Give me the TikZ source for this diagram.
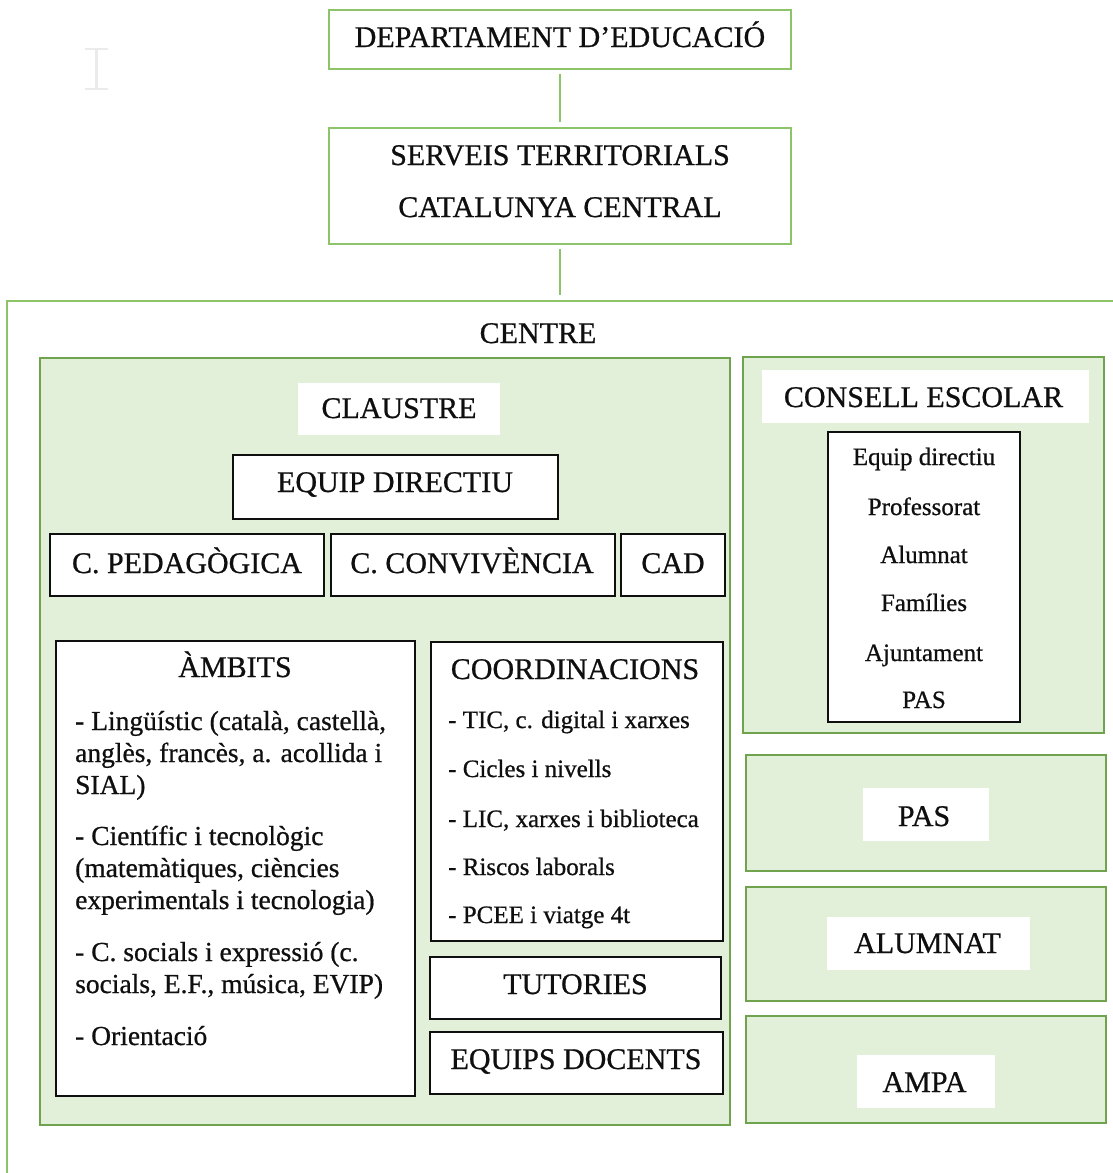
\documentclass[tikz,border=0pt]{standalone}
\usepackage{fontspec}
\setmainfont{Liberation Serif}[FakeBold=0.7]
\usetikzlibrary{fit}
\definecolor{lgreen}{RGB}{141,196,106}
\definecolor{dgreen}{RGB}{112,163,78}
\definecolor{pfill}{RGB}{226,239,217}
\definecolor{ink}{RGB}{15,15,15}
\definecolor{cursorgray}{RGB}{234,236,236}
\begin{document}
\begin{tikzpicture}[x=1pt,y=-1pt,
  topbox/.style={draw=lgreen, line width=1.8pt, inner sep=0pt, fill=white},
  outerbox/.style={draw=lgreen, line width=1.8pt, inner sep=0pt},
  panel/.style={draw=dgreen, line width=1.8pt, fill=pfill, inner sep=0pt},
  wbox/.style={fill=white, inner sep=0pt},
  blackbox/.style={draw=ink, line width=1.6pt, fill=white, inner sep=0pt},
  conn/.style={draw=lgreen, line width=1.8pt, shorten <=4pt, shorten >=5pt},
  lab/.style={anchor=base, inner sep=0pt, text=ink, font=\fontsize{30}{36}\selectfont},
  body/.style={anchor=base west, inner sep=0pt, text=ink, font=\fontsize{27.5}{32}\selectfont},
  item/.style={anchor=base west, inner sep=0pt, text=ink, font=\fontsize{25}{30}\selectfont},
  member/.style={anchor=base, inner sep=0pt, text=ink, font=\fontsize{25}{30}\selectfont},
  cursor/.style={draw=cursorgray, line width=2.5pt}
]
\useasboundingbox[fill=white] (0,0) rectangle (1113,1173);

% faint text cursor
\draw[cursor] (85,49) -- (108,49) (96.5,49) -- (96.5,89) (85,89) -- (108,89);

% top hierarchy
\node[topbox, fit={(329,10) (791,69)}] (dept) {};
\node[topbox, fit={(329,128) (791,244)}] (serv) {};
\node[outerbox, fit={(7,301) (1140,1200)}] (centre) {};
\draw[conn] (dept.south) -- (serv.north);
\draw[conn] (serv.south) -- (serv.south |- centre.north);

% panels
\node[panel, fit={(40,358) (730,1125)}] (left) {};
\node[panel, fit={(743,357) (1104,733)}] (consell) {};
\node[panel, fit={(746,755) (1106,871)}] (pas) {};
\node[panel, fit={(746,887) (1106,1001)}] (alumnat) {};
\node[panel, fit={(746,1016) (1106,1123)}] (ampa) {};

% white label boxes
\node[wbox, fit={(298,383) (500,435)}] (claustre) {};
\node[wbox, fit={(762,370) (1089,423)}] (cescolar) {};
\node[wbox, fit={(863,788) (989,841)}] (pasw) {};
\node[wbox, fit={(827,917) (1030,970)}] (alumnatw) {};
\node[wbox, fit={(857,1055) (995,1108)}] (ampaw) {};

% black boxes
\node[blackbox, fit={(233,455) (558,519)}] (equip) {};
\node[blackbox, fit={(50,534) (324,596)}] (cped) {};
\node[blackbox, fit={(331,534) (615,596)}] (cconv) {};
\node[blackbox, fit={(621,534) (725,596)}] (cad) {};
\node[blackbox, fit={(56,641) (415,1096)}] (ambits) {};
\node[blackbox, fit={(431,642) (723,941)}] (coord) {};
\node[blackbox, fit={(430,957) (721,1019)}] (tutories) {};
\node[blackbox, fit={(430,1032) (723,1094)}] (equips) {};
\node[blackbox, fit={(828,432) (1020,722)}] (membres) {};

% labels
\node[lab] (dept-t) at (560,47) {DEPARTAMENT D’EDUCACIÓ};
\node[lab] (serv-t1) at (560,165) {SERVEIS TERRITORIALS};
\node[lab] (serv-t2) at (560,217) {CATALUNYA CENTRAL};
\node[lab] (centre-t) at (538,343) {CENTRE};
\node[lab] (claustre-t) at (399,418) {CLAUSTRE};
\node[lab] (equip-t) at (395,492) {EQUIP DIRECTIU};
\node[lab] (cped-t) at (187,573) {C. PEDAGÒGICA};
\node[lab] (cconv-t) at (472,573) {C. CONVIVÈNCIA};
\node[lab] (cad-t) at (673,573) {CAD};
\node[lab] (ambits-t) at (235,677) {ÀMBITS};
\node[lab] (coord-t) at (575,679) {COORDINACIONS};
\node[lab] (tutories-t) at (575.5,994) {TUTORIES};
\node[lab] (equips-t) at (576,1069) {EQUIPS DOCENTS};
\node[lab] (cescolar-t) at (923.5,407) {CONSELL ESCOLAR};
\node[lab] (pas-t) at (924,826) {PAS};
\node[lab] (alumnat-t) at (927.5,953) {ALUMNAT};
\node[lab] (ampa-t) at (924.5,1092) {AMPA};

% ambits body
\node[body] (amb1) at (75,730) {- Lingüístic (català, castellà,};
\node[body] (amb2) at (75,762) {anglès, francès, a. acollida i};
\node[body] (amb3) at (75,794) {SIAL)};
\node[body] (amb4) at (75,845) {- Científic i tecnològic};
\node[body] (amb5) at (75,877) {(matemàtiques, ciències};
\node[body] (amb6) at (75,909) {experimentals i tecnologia)};
\node[body] (amb7) at (75,961) {- C. socials i expressió (c.};
\node[body] (amb8) at (75,993) {socials, E.F., música, EVIP)};
\node[body] (amb9) at (75,1045) {- Orientació};

% coordinacions items
\node[item] (co1) at (448,728) {- TIC, c. digital i xarxes};
\node[item] (co2) at (448,777) {- Cicles i nivells};
\node[item] (co3) at (448,827) {- LIC, xarxes i biblioteca};
\node[item] (co4) at (448,875) {- Riscos laborals};
\node[item] (co5) at (448,923) {- PCEE i viatge 4t};

% consell members
\node[member] (m1) at (924,465) {Equip directiu};
\node[member] (m2) at (924,515) {Professorat};
\node[member] (m3) at (924,563) {Alumnat};
\node[member] (m4) at (924,611) {Famílies};
\node[member] (m5) at (924,661) {Ajuntament};
\node[member] (m6) at (924,708) {PAS};
\end{tikzpicture}
\end{document}
